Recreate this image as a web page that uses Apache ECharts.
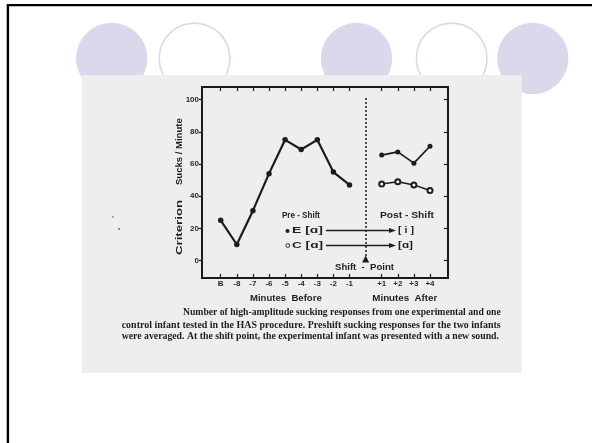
<!DOCTYPE html>
<html><head><meta charset="utf-8">
<script src="https://cdn.jsdelivr.net/npm/echarts@6/dist/echarts.min.js"></script>
<style>html,body{margin:0;padding:0;background:#fff}#c{width:592px;height:443px}</style>
</head><body><div id="c"></div>
<script>
// ---- data ----
const categories = ['B','-8','-7','-6','-5','-4','-3','-2','-1','','+1','+2','+3','+4'];
const preCats = ['B','-8','-7','-6','-5','-4','-3','-2','-1'];
const preShift = [25, 10, 31, 54, 75, 69, 75, 55, 47];
const postCats = ['+1','+2','+3','+4'];
const postE = [65.5, 67.5, 60.5, 71];
const postC = [47.5, 49, 47, 43.5];
const yTicks = [0, 20, 40, 60, 80, 100];
const shiftIndex = 9;
const yLabelText = ['Criterion', 'Sucks / Minute'];
const xNames = ['Minutes  Before', 'Minutes  After'];
const captionLines = [
  'Number of high-amplitude sucking responses from one experimental and one',
  'control infant tested in the HAS procedure. Preshift sucking responses for the two infants',
  'were averaged. At the shift point, the experimental infant was presented with a new sound.'
];

// ---- helpers ----
const mctx = document.createElement('canvas').getContext('2d');
function fitText(str, font, x0, x1, y, extra) {
  mctx.font = font;
  const w = mctx.measureText(str).width;
  const s = (x1 - x0) / w;
  return Object.assign({type:'text', x:x0, y:y, scaleX:s, z:10,
    style:{text:str, font:font, fill:'#1e1e1e', textAlign:'left', textVerticalAlign:'middle'}}, extra||{});
}
function vText(str, font, xc, y0, y1) {
  mctx.font = font;
  const w = mctx.measureText(str).width;
  const s = (y1 - y0) / w;
  return {type:'text', x:xc, y:y1, rotation:Math.PI/2, scaleX:s, z:10,
    style:{text:str, font:font, fill:'#1e1e1e', textAlign:'left', textVerticalAlign:'middle'}};
}
const lav = '#d9d9eb';
const legFont = 'bold 9px "Liberation Sans"';
const capFont = 'bold 10.5px "Liberation Serif"';

const graphics = [
  {type:'rect', shape:{x:0,y:0,width:592,height:443}, style:{fill:'#ffffff'}, z:-5},
  {type:'rect', shape:{x:7,y:4,width:585,height:2.2}, style:{fill:'#000'}, z:-4},
  {type:'rect', shape:{x:6.7,y:4,width:2.4,height:439}, style:{fill:'#000'}, z:-4},
  {type:'circle', shape:{cx:111.7,cy:58.4,r:35.7}, style:{fill:lav}, z:-4},
  {type:'circle', shape:{cx:194.5,cy:58.4,r:35.3}, style:{fill:'#fff', stroke:lav, lineWidth:1.6}, z:-4},
  {type:'circle', shape:{cx:356.5,cy:58.4,r:35.7}, style:{fill:lav}, z:-4},
  {type:'circle', shape:{cx:451.7,cy:58.4,r:35.3}, style:{fill:'#fff', stroke:lav, lineWidth:1.6}, z:-4},
  {type:'circle', shape:{cx:532.8,cy:58.4,r:35.7}, style:{fill:lav}, z:-4},
  {type:'rect', shape:{x:81.7,y:75,width:440,height:298}, style:{fill:'#eeeef0'}, z:-3},
  {type:'circle', shape:{cx:113,cy:217,r:0.9}, style:{fill:'#888'}, z:-2},
  {type:'circle', shape:{cx:119,cy:229,r:0.9}, style:{fill:'#666'}, z:-2},
  // y axis title
  vText(yLabelText[0], legFont, 179.5, 200, 255),
  vText(yLabelText[1], legFont, 179.5, 118.3, 185),
  // x axis titles
  fitText(xNames[0], legFont, 250, 321.7, 299),
  fitText(xNames[1], legFont, 372.3, 437.3, 299),
  // legend / annotation
  fitText('Pre - Shift', legFont, 282, 320, 216),
  fitText('Post - Shift', legFont, 380, 434, 216),
  {type:'circle', shape:{cx:287.5,cy:231,r:2}, style:{fill:'#1e1e1e'}, z:10},
  fitText('E [ɑ]', legFont, 292, 323, 231),
  {type:'circle', shape:{cx:287.8,cy:245.5,r:1.9}, style:{fill:'#fff', stroke:'#1e1e1e', lineWidth:1}, z:10},
  fitText('C [ɑ]', legFont, 292, 323, 245.5),
  {type:'line', shape:{x1:326,y1:230.5,x2:391,y2:230.5}, style:{stroke:'#1e1e1e', lineWidth:1.3}, z:10},
  {type:'polygon', shape:{points:[[396,230.5],[389,228],[389,233]]}, style:{fill:'#1e1e1e'}, z:10},
  {type:'line', shape:{x1:326,y1:245.5,x2:391,y2:245.5}, style:{stroke:'#1e1e1e', lineWidth:1.3}, z:10},
  {type:'polygon', shape:{points:[[396,245.5],[389,243],[389,248]]}, style:{fill:'#1e1e1e'}, z:10},
  fitText('[ i ]', legFont, 398, 414, 231),
  fitText('[ɑ]', legFont, 398, 413, 245.5),
  fitText('Shift  -  Point', legFont, 335, 394, 268),
  // caption
  fitText(captionLines[0], capFont, 183, 500.7, 312.3),
  fitText(captionLines[1], capFont, 121.7, 500.7, 324.8),
  fitText(captionLines[2], capFont, 121.7, 499, 336.7)
];

const tickSkip = function (i) { return i !== shiftIndex; };
const ink = '#1c1c1c';

const option = {
  animation: false,
  backgroundColor: 'transparent',
  graphic: graphics,
  grid: [
    {left:220.7, top:87, width:209.3, height:191},
    {left:202, top:87, width:246, height:191, show:true, borderColor:ink, borderWidth:2, backgroundColor:'transparent', z:3}
  ],
  xAxis: [
    {gridIndex:0, type:'category', data:categories, boundaryGap:false, position:'bottom',
     axisLine:{show:false, onZero:false},
     axisTick:{show:true, inside:true, length:4, interval:tickSkip, lineStyle:{color:ink, width:1.2}},
     axisLabel:{interval:0, margin:2, fontSize:8, fontWeight:'bold', fontFamily:'Liberation Sans', color:'#2a2a2a'},
     splitLine:{show:false}},
    {gridIndex:0, type:'category', data:categories, boundaryGap:false, position:'top',
     axisLine:{show:false, onZero:false},
     axisTick:{show:true, inside:true, length:4, interval:tickSkip, lineStyle:{color:ink, width:1.2}},
     axisLabel:{show:false}, splitLine:{show:false}},
    {gridIndex:1, type:'value', show:false, min:0, max:1}
  ],
  yAxis: [
    {gridIndex:0, type:'value', min:-10.8, max:107.8, minInterval:20, maxInterval:20, position:'left', offset:18.7,
     axisLine:{show:false, onZero:false},
     axisTick:{show:true, length:3, customValues:yTicks, lineStyle:{color:ink, width:1.2}},
     axisLabel:{customValues:yTicks, margin:3, fontSize:8, fontWeight:'bold', fontFamily:'Liberation Sans', color:'#2a2a2a'},
     splitLine:{show:false}},
    {gridIndex:0, type:'value', min:-10.8, max:107.8, minInterval:20, maxInterval:20, position:'right', offset:18,
     axisLine:{show:false, onZero:false},
     axisTick:{show:true, inside:true, length:4, customValues:yTicks, lineStyle:{color:ink, width:1.2}},
     axisLabel:{show:false}, splitLine:{show:false}},
    {gridIndex:1, type:'value', show:false, min:0, max:1}
  ],
  series: [
    {type:'line', xAxisIndex:0, yAxisIndex:0, data:preCats.map((c,i)=>[c, preShift[i]]),
     symbol:'circle', symbolSize:5.5, lineStyle:{color:ink, width:2.2}, itemStyle:{color:ink}, z:5,
     markLine:{silent:true, symbol:['none','none'], label:{show:false},
       lineStyle:{color:ink, width:1.5, type:[2,2]},
       data:[[{coord:[shiftIndex, 101]}, {coord:[shiftIndex, 2.5]}]]},
     markPoint:{silent:true, symbol:'triangle', symbolSize:[7,7], label:{show:false}, itemStyle:{color:ink},
       data:[{coord:[shiftIndex, 1]}]}},
    {type:'line', xAxisIndex:0, yAxisIndex:0, data:postCats.map((c,i)=>[c, postE[i]]),
     symbol:'circle', symbolSize:5, lineStyle:{color:ink, width:1.7}, itemStyle:{color:ink}, z:5},
    {type:'line', xAxisIndex:0, yAxisIndex:0, data:postCats.map((c,i)=>[c, postC[i]]),
     symbol:'emptyCircle', symbolSize:5, lineStyle:{color:ink, width:1.5},
     itemStyle:{color:ink, borderColor:ink, borderWidth:1.1}, z:5}
  ]
};
const chart = echarts.init(document.getElementById('c'), null, {renderer:'canvas'});
chart.setOption(option);
</script>
</body></html>
